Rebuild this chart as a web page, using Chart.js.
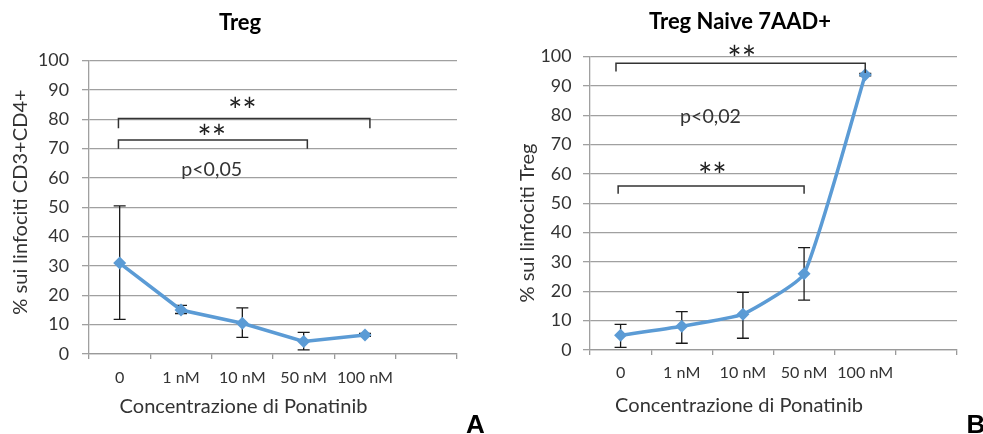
<!DOCTYPE html>
<html>
<head>
<meta charset="utf-8">
<script src="https://cdn.jsdelivr.net/npm/chart.js@4.4.1/dist/chart.umd.min.js"></script>
<style>
  html,body{margin:0;padding:0;background:#fff;}
  body{width:983px;height:434px;position:relative;overflow:hidden;}
  .wrap{position:absolute;top:0;height:434px;}
</style>
</head>
<body>
<div class="wrap" style="left:0;width:490px"><canvas id="cA" width="490" height="434"></canvas></div>
<div class="wrap" style="left:490px;width:493px"><canvas id="cB" width="493" height="434"></canvas></div>
<script>
// ---- data ----
const categories = ['0', '1 nM', '10 nM', '50 nM', '100 nM', ''];
const yTickValues = [0, 10, 20, 30, 40, 50, 60, 70, 80, 90, 100];

const tregMean  = [31.0, 15.0, 10.5, 4.3, 6.5];
const tregUpper = [50.5, 16.6, 15.7, 7.4, 7.0];
const tregLower = [11.8, 13.8, 5.7, 1.4, 6.0];

const naiveMean  = [5.0, 8.1, 12.2, 26.0, 93.8];
const naiveUpper = [8.7, 13.1, 19.6, 34.9, 94.2];
const naiveLower = [0.9, 2.3, 4.0, 17.0, 93.4];

const titleA = 'Treg';
const titleB = 'Treg Naive 7AAD+';
const yTitleA = '% sui linfociti CD3+CD4+';
const yTitleB = '% sui linfociti Treg';
const xTitle = 'Concentrazione di Ponatinib';

// ---- helpers ----
const FAM = 'Lato, "Noto Sans", sans-serif';
const TXT = '#333333';
const mctx = document.createElement('canvas').getContext('2d');
function fit(text, weight, target) {
  mctx.font = weight + ' 100px ' + FAM;
  return 100 * target / mctx.measureText(text).width;
}
const yTickSize = fit('100', 'normal', 31);
const xTickSize = fit('100 nM', 'normal', 56);
const axisTitleSize = fit(xTitle, 'normal', 248);
const pSize = fit('p<0,05', 'normal', 61);
const titleSize = fit(titleB, 'bold', 182);

// ---- decoration plugin (error bars, brackets, texts) ----
const deco = {
  id: 'deco',
  beforeDatasetsDraw(chart, args, o) {
    const {ctx, scales: {x, y}} = chart;
    ctx.save();
    ctx.strokeStyle = '#1a1a1a';
    ctx.lineWidth = 1.3;
    o.upper.forEach((u, i) => {
      const px = x.getPixelForValue(i);
      const t = y.getPixelForValue(u), b = y.getPixelForValue(o.lower[i]);
      ctx.beginPath();
      ctx.moveTo(px, t); ctx.lineTo(px, b);
      ctx.moveTo(px - 6, t); ctx.lineTo(px + 6, t);
      ctx.moveTo(px - 6, b); ctx.lineTo(px + 6, b);
      ctx.stroke();
    });
    ctx.restore();
  },
  afterDraw(chart, args, o) {
    const {ctx, scales: {x, y}} = chart;
    ctx.save();
    // brackets
    ctx.strokeStyle = '#333333';
    ctx.lineWidth = 1.5;
    o.brackets.forEach(br => {
      const x1 = x.getPixelForValue(br.x1), x2 = x.getPixelForValue(br.x2);
      const yt = y.getPixelForValue(br.top);
      ctx.beginPath();
      ctx.moveTo(x1, y.getPixelForValue(br.l));
      ctx.lineTo(x1, yt); ctx.lineTo(x2, yt);
      ctx.lineTo(x2, y.getPixelForValue(br.r));
      ctx.stroke();
    });
    // stars
    ctx.fillStyle = '#1f1f1f';
    ctx.textAlign = 'center';
    ctx.textBaseline = 'alphabetic';
    const ss = 34;
    ctx.font = 'normal ' + ss + 'px ' + FAM;
    o.stars.forEach(s => {
      ctx.fillText('**', x.getPixelForValue(s.x), y.getPixelForValue(s.y) + 0.58 * ss);
    });
    // p value
    ctx.fillStyle = TXT;
    ctx.font = 'normal ' + pSize + 'px ' + FAM;
    ctx.textBaseline = 'middle';
    ctx.fillText(o.p.text, x.getPixelForValue(o.p.x), y.getPixelForValue(o.p.y));
    // chart title
    ctx.fillStyle = '#000';
    ctx.font = 'bold ' + titleSize + 'px ' + FAM;
    ctx.fillText(o.title, o.titlePos[0], o.titlePos[1]);
    // axis titles
    ctx.fillStyle = TXT;
    ctx.font = 'normal ' + axisTitleSize + 'px ' + FAM;
    ctx.fillText(xTitle, o.xTitlePos[0], o.xTitlePos[1]);
    ctx.save();
    ctx.translate(o.yTitlePos[0], o.yTitlePos[1]);
    ctx.rotate(-Math.PI / 2);
    ctx.fillText(o.yTitle, 0, 0);
    ctx.restore();
    // panel letter
    ctx.fillStyle = '#000';
    ctx.textAlign = 'left';
    ctx.textBaseline = 'alphabetic';
    ctx.font = 'bold 26px "Liberation Sans", Arial, sans-serif';
    ctx.fillText(o.letter, o.letterPos[0], o.letterPos[1]);
    ctx.restore();
  }
};

function makeChart(id, mean, opts, geo) {
  return new Chart(document.getElementById(id), {
    type: 'line',
    data: {
      labels: categories,
      datasets: [{
        data: mean,
        borderColor: '#5B9BD5',
        backgroundColor: '#5B9BD5',
        borderWidth: 3.5,
        pointStyle: 'rectRot',
        pointRadius: 6.5,
        pointBorderWidth: 0,
        pointBackgroundColor: '#5B9BD5',
        tension: geo.tension,
        clip: false
      }]
    },
    options: {
      responsive: false,
      animation: false,
      devicePixelRatio: 1,
      layout: {padding: {left: 0, right: geo.padRight, top: geo.padTop, bottom: 0}},
      plugins: {legend: {display: false}, tooltip: {enabled: false}, deco: opts},
      scales: {
        x: {
          type: 'category',
          offset: true,
          grid: {offset: true, drawOnChartArea: false, drawTicks: true, tickLength: 5, color: '#9a9a9a', lineWidth: 1.3},
          border: {display: true, color: '#9a9a9a', width: 1.3},
          ticks: {color: TXT, font: {family: FAM, size: xTickSize}, padding: geo.xPad, maxRotation: 0, autoSkip: false},
          afterFit(s) { s.height = geo.xHeight; }
        },
        y: {
          min: 0, max: 100,
          afterBuildTicks(s) { s.ticks = yTickValues.map(v => ({value: v})); },
          grid: {color: '#a0a0a0', lineWidth: 1.3, tickLength: 7, drawTicks: true},
          border: {display: true, color: '#a0a0a0', width: 1.3},
          ticks: {color: TXT, font: {family: FAM, size: yTickSize}, padding: geo.yPad},
          afterFit(s) { s.width = geo.yWidth; }
        }
      }
    },
    plugins: [deco]
  });
}

makeChart('cA', tregMean, {
  upper: tregUpper, lower: tregLower,
  brackets: [
    {x1: -0.02, x2: 4.08, top: 80.3, l: 77, r: 77},
    {x1: -0.02, x2: 3.06, top: 73, l: 70, r: 70}
  ],
  stars: [{x: 2.0, y: 85.6}, {x: 1.5, y: 76.2}],
  p: {text: 'p<0,05', x: 1.5, y: 63},
  title: titleA, titlePos: [240, 23],
  xTitlePos: [243.5, 407],
  yTitle: yTitleA, yTitlePos: [21, 202],
  letter: 'A', letterPos: [466, 433]
}, {padRight: 33, padTop: 60.7, yWidth: 89, xHeight: 80, xPad: 9, yPad: 13, tension: 0});

makeChart('cB', naiveMean, {
  upper: naiveUpper, lower: naiveLower,
  brackets: [
    {x1: -0.075, x2: 4.0, top: 97.7, l: 94.9, r: 94.4},
    {x1: -0.04, x2: 3.0, top: 55.9, l: 53.2, r: 53.2}
  ],
  stars: [{x: 1.98, y: 101.7}, {x: 1.5, y: 61.9}],
  p: {text: 'p<0,02', x: 1.47, y: 79.5},
  title: titleB, titlePos: [250, 21.7],
  xTitlePos: [249, 406],
  yTitle: yTitleB, yTitlePos: [38, 223],
  letter: 'B', letterPos: [476.5, 433]
}, {padRight: 26, padTop: 56.5, yWidth: 100, xHeight: 84, xPad: 8, yPad: 11.5, tension: 0.15});
</script>
</body>
</html>
